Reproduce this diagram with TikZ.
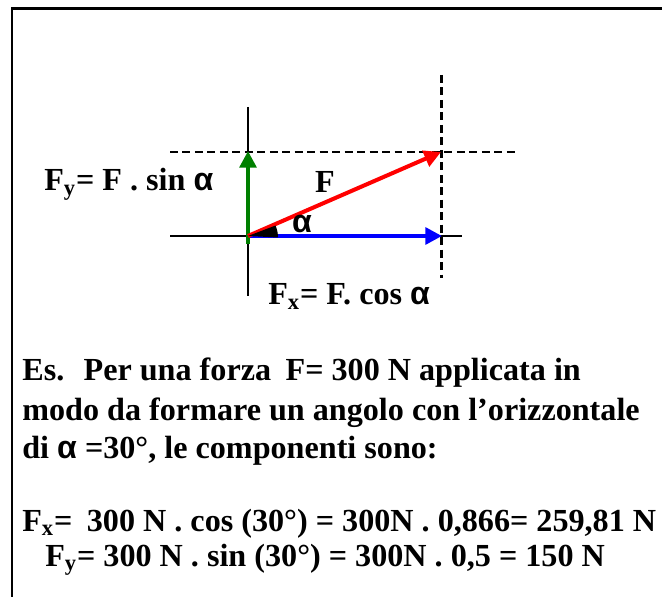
\documentclass[tikz,border=0pt]{standalone}
\usepackage{fontspec}
\setmainfont{Liberation Serif}
\newfontfamily\alfa{Liberation Sans}
\usepackage{xcolor}
\usetikzlibrary{arrows.meta}
\definecolor{VRed}{HTML}{FF0000}
\definecolor{VGreen}{HTML}{008000}
\definecolor{VBlue}{HTML}{0000FF}
\newcommand{\alf}{{\alfa\bfseries α}}

\begin{document}
\begin{tikzpicture}[x=0.02cm,y=-0.02cm,font=\fontsize{18.3}{21}\selectfont\bfseries,
  vec/.style={line width=2.3pt,-{Triangle[length=9.5pt,width=9.5pt]}},
  guide/.style={line width=1.7pt,dash pattern=on 4.5pt off 2.6pt},
  txt/.style={anchor=base west,inner sep=0pt}]
\useasboundingbox (0,0) rectangle (662,597);
\draw[line width=1.7pt] (12,597) -- (12,9) -- (662,9);

% assi e linee tratteggiate
\coordinate (O) at (248,236);
\coordinate (tip) at (441,152);
\coordinate (fx) at (442,236);
\coordinate (fy) at (248,151);
\draw[line width=1.1pt] (248,107) -- (248,296);
\draw[line width=1.1pt] (170,236) -- (462,236);
\draw[guide] (170,152) -- (518,152);
\draw[guide] (441,75) -- (441,278);

% vettori
\draw[vec,VBlue] (O) -- (fx);
\draw[vec,VGreen] (248,244) -- (fy);
\draw[vec,VRed] (O) -- (tip);

% angolo
\fill (O) -- ++(30,1.5) arc[start angle=0,end angle=-23.5,radius=30] -- cycle;

\node (lF) at (325,182) {F};
\node (lalpha) at (302,224) {\alf};
\node[txt] (lFy) at (44,191) {F\textsubscript{y}= F . sin \alf};
\node[txt] (lFx) at (268,305) {F\textsubscript{x}= F. cos \alf};

% testo
\foreach \y/\riga [count=\i] in {380/{Es.\hspace{0.6em}Per una forza\hspace{0.45em}F= 300 N applicata in},
  420/{modo da formare un angolo con l’orizzontale},
  459/{di \alf\ =30°, le componenti sono:}} {
  \node[txt] (riga\i) at (22,\y) {\riga};
}
\node[txt] (calcx) at (22,531) {F\textsubscript{x}=\hspace{0.45em}300 N . cos (30°) = 300N . 0,866= 259,81 N};
\node[txt] (calcy) at (45,566) {F\textsubscript{y}= 300 N . sin (30°) = 300N . 0,5 = 150 N};
\end{tikzpicture}
\end{document}
